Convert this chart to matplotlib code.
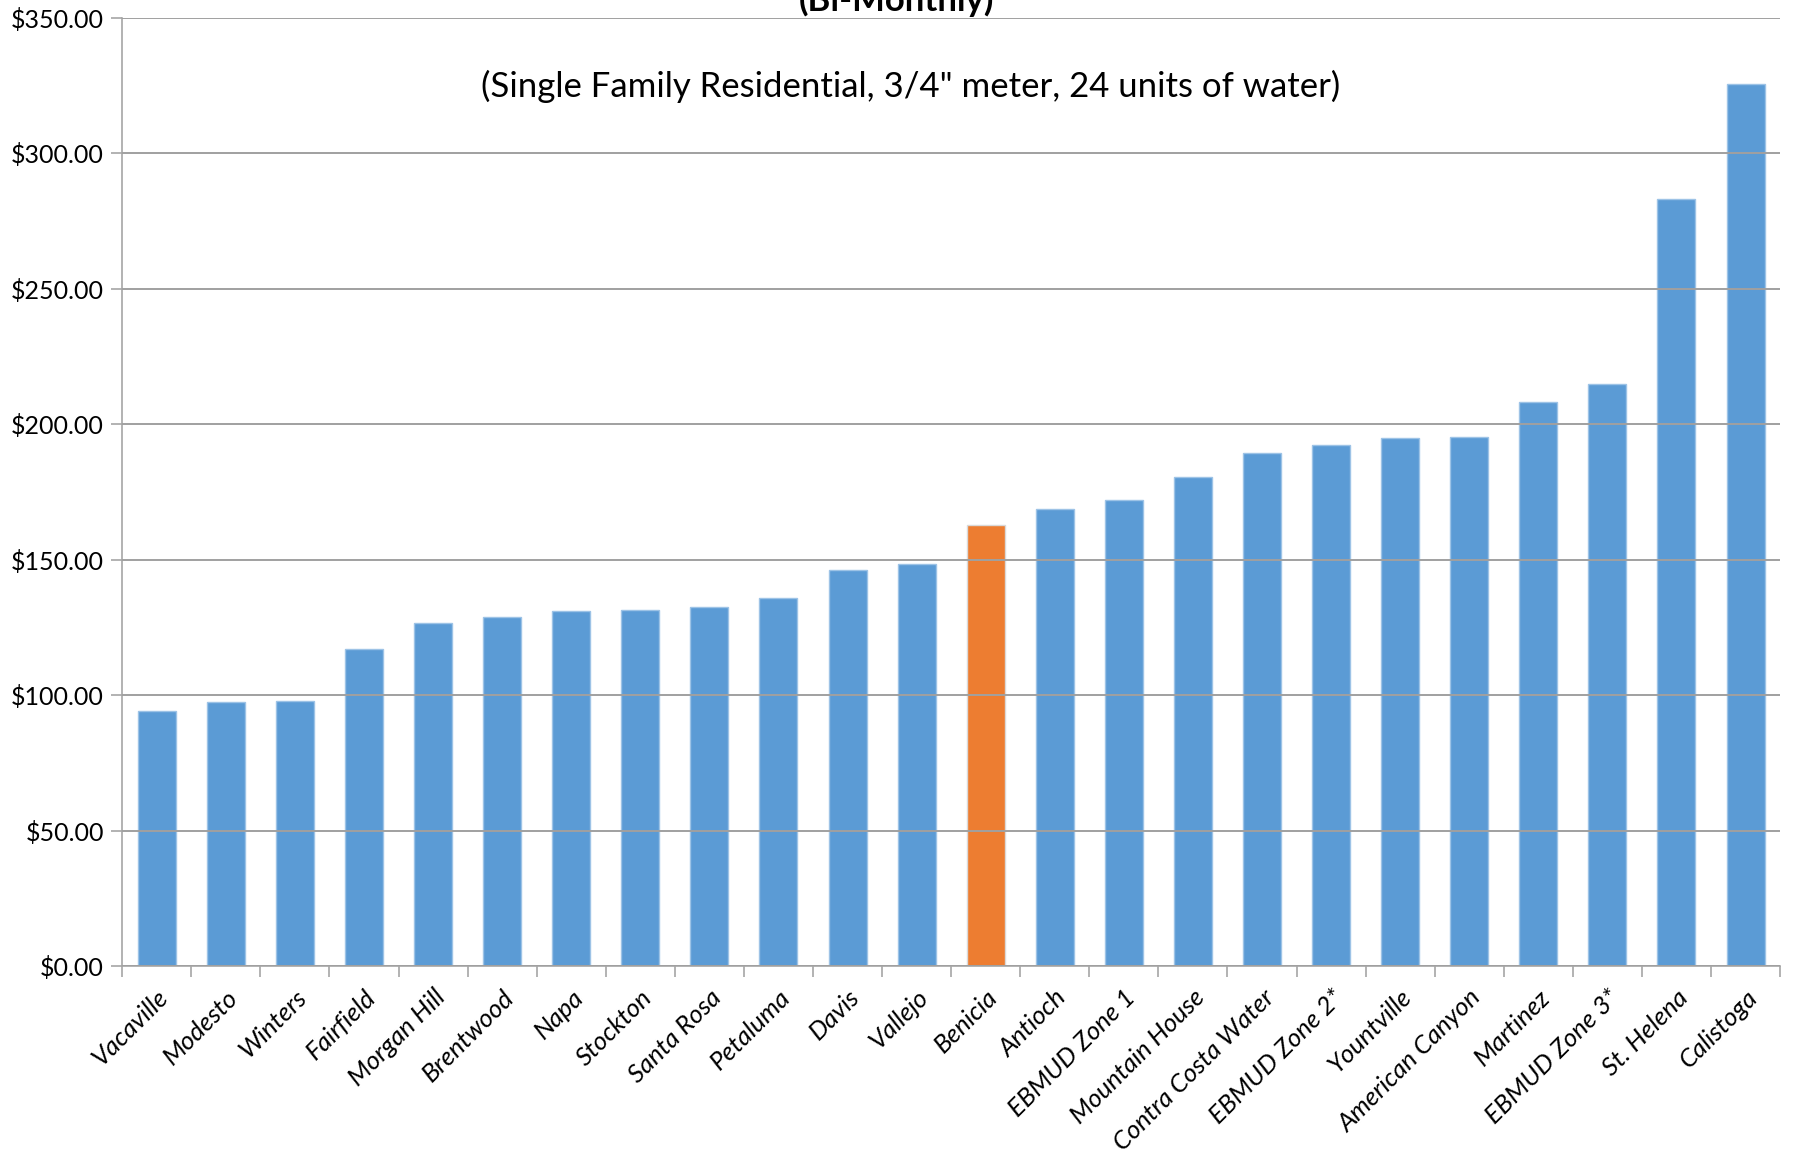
import matplotlib
matplotlib.use("Agg")
import matplotlib.pyplot as plt
from matplotlib.ticker import FuncFormatter, MultipleLocator

# city water bills, bi-monthly, 24 units
cities = ["Vacaville", "Modesto", "Winters", "Fairfield", "Morgan Hill", "Brentwood",
          "Napa", "Stockton", "Santa Rosa", "Petaluma", "Davis", "Vallejo", "Benicia",
          "Antioch", "EBMUD Zone 1", "Mountain House", "Contra Costa Water",
          "EBMUD Zone 2*", "Yountville", "American Canyon", "Martinez",
          "EBMUD Zone 3*", "St. Helena", "Calistoga"]
bills = [94.2, 97.4, 98.0, 117.0, 126.5, 128.9, 131.2, 131.4, 132.5, 135.8, 146.2,
         148.4, 162.7, 168.7, 172.0, 180.5, 189.4, 192.5, 194.8, 195.3, 208.4,
         215.0, 283.0, 325.6]
highlight = "Benicia"

plt.rcParams['font.family'] = ['Lato', 'DejaVu Sans']

fig = plt.figure(figsize=(17.97, 11.55), dpi=100)
ax = fig.add_axes([0.068, 0.1636, 0.9226, 0.8208])

colors = ["#ED7D31" if c == highlight else "#5B9BD5" for c in cities]
edges = ["#D9D9D9" if c == highlight else "#9DC3E6" for c in cities]
x = list(range(len(cities)))
ax.bar(x, bills, width=0.55, color=colors, edgecolor=edges, linewidth=1, zorder=2)

ax.set_xlim(-0.5, len(cities) - 0.5)
ax.set_ylim(0, 350)
ax.yaxis.set_major_locator(MultipleLocator(50))
ax.yaxis.set_major_formatter(FuncFormatter(lambda v, p: f"${v:,.2f}"))
ax.grid(axis='y', color='#A0A0A0', linewidth=1.4, zorder=3)
ax.set_axisbelow(False)

ax.set_xticks(x)
ax.set_xticklabels(cities, rotation=45, ha='right', rotation_mode='anchor',
                   fontsize=18.5, style='italic')
ax.set_xticks([i - 0.5 for i in range(len(cities) + 1)], minor=True)
ax.tick_params(axis='x', which='major', length=0, pad=14)
ax.tick_params(axis='x', which='minor', length=8, color='#A6A6A6', width=1.2)
ax.tick_params(axis='y', length=8, color='#A6A6A6', width=1.2, labelsize=18, pad=5)

for s in ['top', 'right']:
    ax.spines[s].set_visible(False)
for s in ['left', 'bottom']:
    ax.spines[s].set_color('#A6A6A6')
    ax.spines[s].set_linewidth(1.2)

# title sits partly above the top edge, as in the source image
fig.text(0.499, 0.9905, "(Bi-Monthly)", ha='center', va='baseline',
         fontsize=25, fontweight='bold')
fig.text(0.5065, 0.925, "(Single Family Residential, 3/4\" meter, 24 units of water)",
         ha='center', va='center', fontsize=25)

fig.savefig("out.png", dpi=100)
